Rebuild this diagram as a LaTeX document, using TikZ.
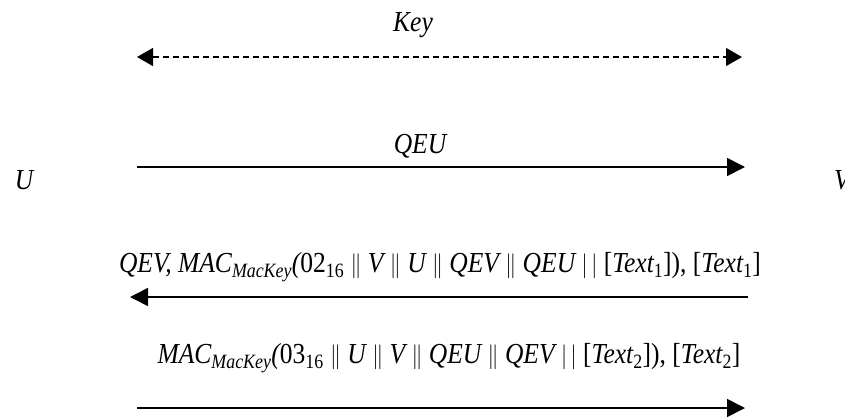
\documentclass[tikz,border=0pt]{standalone}
\usepackage{fontspec}
\setmainfont{Liberation Serif}
\usetikzlibrary{arrows.meta,positioning}
\newcommand{\cond}[1]{\scalebox{0.88}[1]{#1}}

\begin{document}
\begin{tikzpicture}[x=1pt,y=-1pt,
    msg/.style={font=\fontsize{29}{32}\selectfont\itshape,inner sep=0pt},
    party/.style={font=\fontsize{29}{32}\selectfont\itshape,inner sep=0pt},
    flow/.style={line width=1.6pt,-{Triangle[length=18pt,width=18pt]}},
    keyflow/.style={line width=1.2pt,dash pattern=on 6pt off 4pt,{Triangle[length=16pt,width=18pt]}-{Triangle[length=16pt,width=18pt]}}]
    \useasboundingbox (0,0) rectangle (845,418);
    \clip (0,0) rectangle (845,418);
    \node[party] (u) at (24,180) {\cond{U}};
    \node[party] (v) at (842,180) {\cond{V}};
    % key agreement
    \node[msg] (key) at (413,25) {\cond{Key}};
    \coordinate (k1) at (137,57);
    \coordinate (k2) at (742,57);
    \draw[keyflow] (k1) -- (k2);
    % first pass
    \node[msg] (qeu) at (420,146) {\cond{QEU}};
    \coordinate (a1) at (137,167);
    \coordinate (a2) at (745,167);
    \draw[flow] (a1) -- (a2);
    % second pass
    \node[msg] (resp) at (440,267) {\cond{QEV, MAC\textsubscript{MacKey}(\upshape 02\textsubscript{16} $\|$ \itshape V $\|$ U $\|$ QEV $\|$ QEU $|\,|$ \upshape[\itshape Text\textsubscript{\upshape 1}\upshape]), [\itshape Text\textsubscript{\upshape 1}\upshape]}};
    \coordinate (b1) at (748,297);
    \coordinate (b2) at (130,297);
    \draw[flow] (b1) -- (b2);
    % third pass
    \node[msg] (conf) at (449,358) {\cond{MAC\textsubscript{MacKey}(\upshape 03\textsubscript{16} $\|$ \itshape U $\|$ V $\|$ QEU $\|$ QEV $|\,|$ \upshape[\itshape Text\textsubscript{\upshape 2}\upshape]), [\itshape Text\textsubscript{\upshape 2}\upshape]}};
    \coordinate (c1) at (137,408);
    \coordinate (c2) at (745,408);
    \draw[flow] (c1) -- (c2);
\end{tikzpicture}
\end{document}
